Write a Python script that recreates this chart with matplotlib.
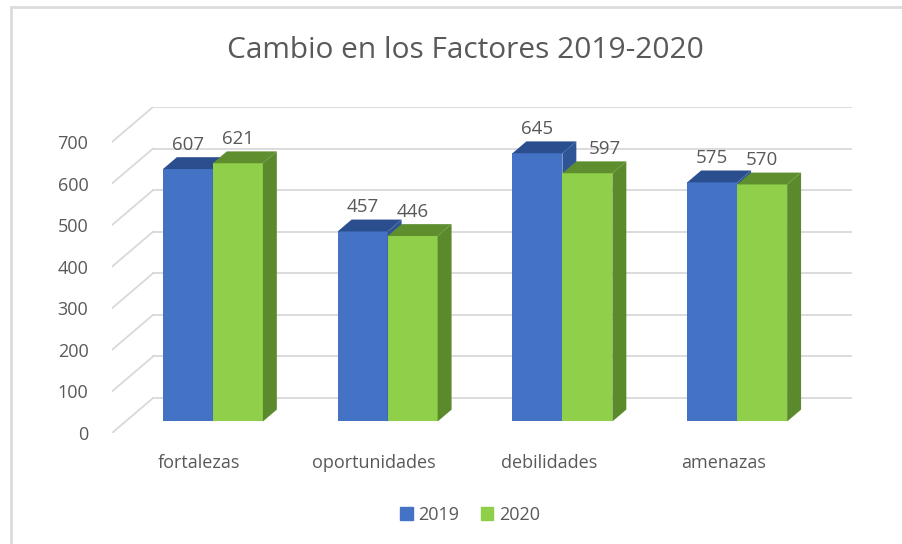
import matplotlib.pyplot as plt
from matplotlib.patches import Polygon, Patch
from matplotlib.lines import Line2D

# datos
categorias = ["fortalezas", "oportunidades", "debilidades", "amenazas"]
series = ["2019", "2020"]
v2019 = [607, 457, 645, 575]
v2020 = [621, 446, 597, 570]
yticks = [0, 100, 200, 300, 400, 500, 600, 700]

col_frente = ["#4472C4", "#8FCF4A"]
col_lado = ["#2F5597", "#5B8A2C"]
col_techo = ["#2B4F8E", "#5E8E2E"]
gris = "#595959"
grid = "#D9D9D9"

plt.rcParams['font.family'] = ['Open Sans', 'DejaVu Sans']

fig = plt.figure(figsize=(9.03, 5.44), dpi=100)
# ejes alineados con el plano frontal del grafico 3d
ax = fig.add_axes([112/903, 1-433/544, 740/903, 326/544])
prof_x = 0.2346   # profundidad del muro en unidades de x
prof_y = 84       # profundidad del muro en unidades de valor
ax.set_xlim(0, 4 + prof_x)
ax.set_ylim(0, max(yticks) + prof_y)
for s in ax.spines.values():
    s.set_visible(False)
ax.set_xticks([])
ax.set_yticks(yticks)
ax.set_yticklabels([str(t) for t in yticks], color=gris, fontsize=13)
ax.tick_params(axis='y', length=0, pad=17)

# lineas de la cuadricula (suelo diagonal + muro de fondo)
for t in yticks:
    ax.plot([0, prof_x], [t, t + prof_y], color=grid, lw=1.3, zorder=0)
    ax.plot([prof_x, 4 + prof_x], [t + prof_y, t + prof_y], color=grid, lw=1.3, zorder=0)

ancho = 0.286
f0, f1 = 0.33, 0.67
dx = (f1 - f0) * prof_x
dy = (f1 - f0) * prof_y
ox = f0 * prof_x
oy = f0 * prof_y

valores = [v2019, v2020]
for i, cat in enumerate(categorias):
    for s in range(2):
        v = valores[s][i]
        x0 = i + 0.5 - ancho + s * ancho + ox
        x1 = x0 + ancho
        ax.bar(x0, v, width=ancho, bottom=oy, align='edge',
               color=col_frente[s], zorder=2 + s)
        ax.add_patch(Polygon([(x0, v + oy), (x1, v + oy), (x1 + dx, v + oy + dy),
                              (x0 + dx, v + oy + dy)], closed=True,
                             color=col_techo[s], zorder=2 + s, lw=0))
        ax.add_patch(Polygon([(x1, oy), (x1, v + oy), (x1 + dx, v + oy + dy),
                              (x1 + dx, oy + dy)], closed=True,
                             color=col_lado[s], zorder=2 + s, lw=0))
        # etiqueta de valor
        lx = x0 + ancho / 2
        if s == 1 and valores[0][i] - v > 30:
            lx += 0.1
        ax.text(lx, v + oy + dy + 30, str(v), ha='center', va='center',
                fontsize=13.5, color=gris, zorder=5)
    ax.text(i + 0.5, -72, cat, ha='center', va='center', fontsize=13, color=gris)

fig.text(465/903, 1-50/544, "Cambio en los Factores 2019-2020", ha='center',
         va='center', fontsize=21.5, color=gris)

handles = [Patch(color=col_frente[0]), Patch(color=col_frente[1])]
fig.legend(handles, series, loc='center', bbox_to_anchor=(470/903, 1-515/544),
           ncol=2, frameon=False, fontsize=13, labelcolor=gris,
           handlelength=0.7, handleheight=0.7, handletextpad=0.3, columnspacing=1.2)

# borde del grafico
fig.add_artist(Line2D([11/903, 11/903], [0, 1-7/544], color="#DCDCDC", lw=2))
fig.add_artist(Line2D([11/903, 1], [1-7/544, 1-7/544], color="#DCDCDC", lw=2))

fig.savefig("out.png", dpi=100)
